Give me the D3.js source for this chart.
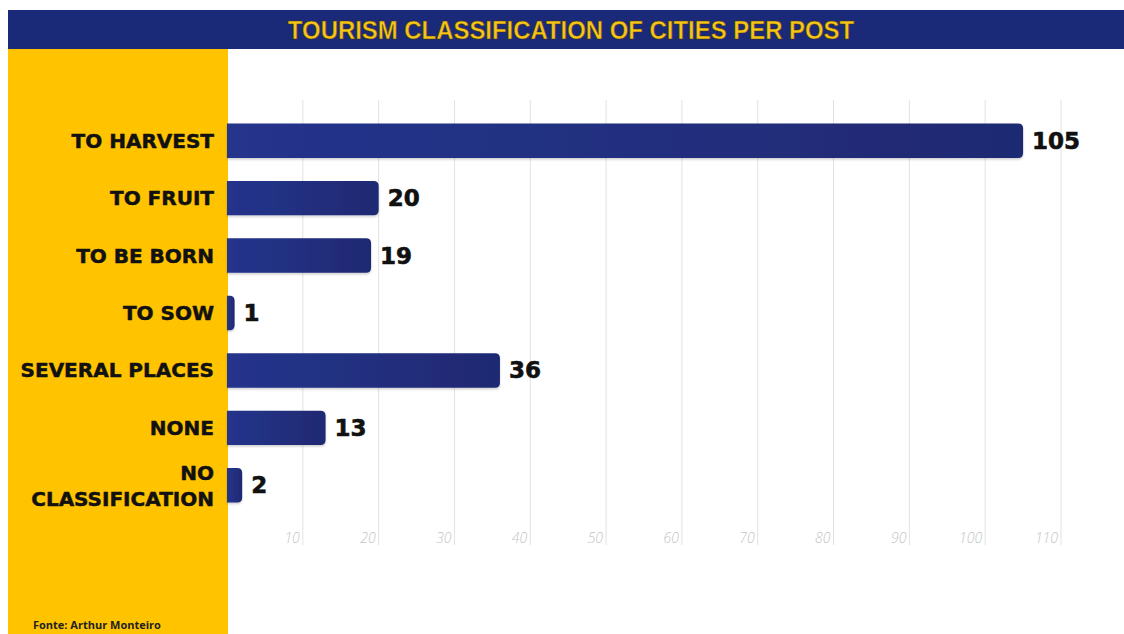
<!DOCTYPE html>
<html>
<head>
<meta charset="utf-8">
<script src="https://cdn.jsdelivr.net/npm/d3@7"></script>
<style>
  body { margin: 0; background: #fff; }
  svg { display: block; }
</style>
</head>
<body>
<div id="chart"></div>
<script>
// chart data
const categories = ["TO HARVEST", "TO FRUIT", "TO BE BORN", "TO SOW", "SEVERAL PLACES", "NONE", "NO CLASSIFICATION"];
const values = [105, 20, 19, 1, 36, 13, 2];
const tickValues = [10, 20, 30, 40, 50, 60, 70, 80, 90, 100, 110];
const title = "TOURISM CLASSIFICATION OF CITIES PER POST";
const source = "Fonte: Arthur Monteiro";

const width = 1124, height = 634;

const svg = d3.select("#chart").append("svg")
  .attr("width", width)
  .attr("height", height);

// gradient for bars
const defs = svg.append("defs");
const grad = defs.append("linearGradient").attr("id", "barGrad")
  .attr("x1", "0%").attr("x2", "100%").attr("y1", "0%").attr("y2", "0%");
grad.append("stop").attr("offset", "0%").attr("stop-color", "#25348c");
grad.append("stop").attr("offset", "100%").attr("stop-color", "#1f2a72");

const shadow = defs.append("filter").attr("id", "shadow")
  .attr("x", "-5%").attr("y", "-20%").attr("width", "110%").attr("height", "160%");
shadow.append("feDropShadow").attr("dx", 0).attr("dy", 1.5)
  .attr("stdDeviation", 1.2).attr("flood-color", "#000").attr("flood-opacity", 0.2);

// yellow side panel
svg.append("rect")
  .attr("x", 8).attr("y", 49).attr("width", 220).attr("height", height - 49)
  .attr("fill", "#ffc300");

// title banner
svg.append("rect")
  .attr("x", 8).attr("y", 10).attr("width", width - 8).attr("height", 39)
  .attr("fill", "#1b2a78");
svg.append("text")
  .attr("transform", "translate(571,39) scale(0.92,1)")
  .attr("text-anchor", "middle")
  .attr("font-family", "'Liberation Sans', Arial, sans-serif")
  .attr("font-weight", "bold")
  .attr("font-size", 26)
  .attr("fill", "#f6c51a")
  .attr("stroke", "#4a3500").attr("stroke-width", 0.5)
  .text(title);

// scales
const x = d3.scaleLinear().domain([0, 110]).range([227, 1061]);
const y = d3.scaleBand().domain(categories)
  .range([112, 514]).paddingInner(0.4).paddingOuter(0.2);

// grid lines
svg.append("g").selectAll("line")
  .data(tickValues).join("line")
  .attr("x1", d => x(d)).attr("x2", d => x(d))
  .attr("y1", 100).attr("y2", 545)
  .attr("stroke", "#e2e2e2").attr("stroke-width", 1);

// tick labels
svg.append("g").selectAll("text")
  .data(tickValues).join("text")
  .attr("x", d => x(d) - 3).attr("y", 543)
  .attr("text-anchor", "end")
  .attr("font-family", "'Open Sans', sans-serif")
  .attr("font-style", "italic")
  .attr("font-weight", 300)
  .attr("font-size", 14)
  .attr("fill", "#c4c4c4")
  .text(d => d);

// bars with rounded right end
function barPath(x0, x1, y0, h, r) {
  r = Math.min(r, (x1 - x0), h / 2);
  return `M${x0},${y0}H${x1 - r}Q${x1},${y0} ${x1},${y0 + r}V${y0 + h - r}Q${x1},${y0 + h} ${x1 - r},${y0 + h}H${x0}Z`;
}

svg.append("g").selectAll("path")
  .data(categories).join("path")
  .attr("d", (c, i) => barPath(x(0), x(values[i]), y(c), y.bandwidth(), 5))
  .attr("fill", "url(#barGrad)")
  .attr("filter", "url(#shadow)");

// value labels
svg.append("g").selectAll("text")
  .data(categories).join("text")
  .attr("x", (c, i) => x(values[i]) + 9)
  .attr("y", c => y(c) + y.bandwidth() / 2 + 8)
  .attr("font-family", "'DejaVu Sans', sans-serif")
  .attr("font-weight", "bold")
  .attr("font-size", 23)
  .attr("fill", "#111")
  .attr("stroke", "#111").attr("stroke-width", 0.6)
  .text((c, i) => values[i]);

// category labels
const catLabels = svg.append("g").selectAll("text")
  .data(categories).join("text")
  .attr("text-anchor", "end")
  .attr("font-family", "'DejaVu Sans', sans-serif")
  .attr("font-weight", "bold")
  .attr("font-size", 20)
  .attr("fill", "#111")
  .attr("stroke", "#111").attr("stroke-width", 0.5);

catLabels.each(function (c) {
  const t = d3.select(this);
  const cy = y(c) + y.bandwidth() / 2;
  if (c === "NO CLASSIFICATION") {
    t.append("tspan").attr("x", 214).attr("y", cy - 5).text("NO");
    t.append("tspan").attr("x", 214).attr("y", cy + 21).text("CLASSIFICATION");
  } else {
    t.attr("x", 214).attr("y", cy + 7).text(c);
  }
});

// source note
svg.append("text")
  .attr("x", 33).attr("y", 629)
  .attr("font-family", "'Open Sans', sans-serif")
  .attr("font-weight", 700)
  .attr("font-size", 11)
  .attr("fill", "#222")
  .text(source);
</script>
</body>
</html>
